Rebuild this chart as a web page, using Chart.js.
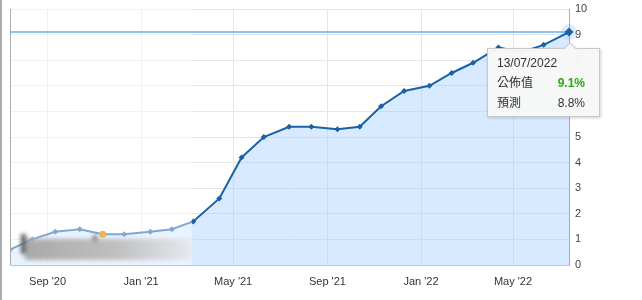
<!DOCTYPE html>
<html>
<head>
<meta charset="utf-8">
<script src="https://cdn.jsdelivr.net/npm/chart.js@4/dist/chart.umd.min.js"></script>
<style>
  html, body { margin: 0; padding: 0; background: #fff; }
  #wrap { position: relative; width: 642px; height: 300px; overflow: hidden; }
  #edge { position: absolute; left: 0; top: 0; width: 2px; height: 300px; background: #ababab; }
  #tip {
    position: absolute; box-sizing: border-box; width: 113px; height: 69px;
    background: rgba(247,247,247,0.97); border: 1px solid #c8c8c8;
    box-shadow: 1px 1px 3px rgba(0,0,0,0.18);
    padding: 4px 14px 4px 9px;
    font-family: "Liberation Sans", "Noto Sans CJK TC", Arial, sans-serif; font-size: 12px; color: #333;
  }
  #tip .row { display: flex; justify-content: space-between; height: 20px; line-height: 20px; white-space: nowrap; }
  #tip .pub { color: #2eab0c; font-weight: bold; }
  #tip .caret {
    position: absolute; width: 9px; height: 9px; top: -5px; left: 77px;
    background: rgba(247,247,247,0.97); border-left: 1px solid #c8c8c8; border-top: 1px solid #c8c8c8;
    transform: rotate(45deg);
  }
</style>
</head>
<body>
<div id="wrap">
  <canvas id="c" width="642" height="300"></canvas>
  <div id="edge"></div>
  <div id="tip">
    <div class="caret"></div>
    <div class="row"><span id="tipDate"></span></div>
    <div class="row"><span id="pubLabel"></span><span class="pub" id="pubVal"></span></div>
    <div class="row"><span id="fcLabel"></span><span id="fcVal"></span></div>
  </div>
</div>
<script>
// ---- data ----
const releaseDates = ["2020-07-14","2020-08-12","2020-09-11","2020-10-13","2020-11-12","2020-12-10",
  "2021-01-13","2021-02-10","2021-03-10","2021-04-13","2021-05-12","2021-06-10","2021-07-13",
  "2021-08-11","2021-09-14","2021-10-13","2021-11-10","2021-12-10","2022-01-12","2022-02-10",
  "2022-03-10","2022-04-12","2022-05-11","2022-06-10","2022-07-13"];
const cpiValues = [0.6,1.0,1.3,1.4,1.2,1.2,1.3,1.4,1.7,2.6,4.2,5.0,5.4,5.4,5.3,5.4,6.2,6.8,7.0,7.5,7.9,8.5,8.3,8.6,9.1];
const tickDates = ["2020-09-01","2021-01-01","2021-05-01","2021-09-01","2022-01-01","2022-05-01"];
const tickLabels = ["Sep '20","Jan '21","May '21","Sep '21","Jan '22","May '22"];
const yTicks = [0,1,2,3,4,5,6,7,8,9,10];
const forecastValue = 8.8;
const tooltipLabels = ["公佈值","預測"];
const highlightIndex = 4;
const shadeEnd = "2021-03-08";

const toDay = s => Date.UTC(+s.slice(0,4), +s.slice(5,7)-1, +s.slice(8,10)) / 86400000;
const points = releaseDates.map((d,i) => ({x: toDay(d), y: cpiValues[i]}));
const lastIdx = points.length - 1;

Chart.defaults.font.family = "'Liberation Sans', Arial, sans-serif";
Chart.defaults.font.size = 11;
Chart.defaults.color = '#444';

const decor = {
  id: 'decor',
  beforeDatasetsDraw(chart) {
    const {ctx} = chart;
    const el = chart.getDatasetMeta(0).data[lastIdx];
    ctx.save();
    ctx.fillStyle = 'rgba(120,170,225,0.22)';
    ctx.beginPath(); ctx.arc(el.x, el.y, 8, 0, Math.PI*2); ctx.fill();
    ctx.restore();
  },
  afterDatasetsDraw(chart) {
    const {ctx, chartArea: a, scales: {x, y}} = chart;
    ctx.save();
    // faded early region
    const xe = x.getPixelForValue(toDay(shadeEnd));
    ctx.fillStyle = 'rgba(255,255,255,0.45)';
    ctx.fillRect(a.left, a.top, xe - a.left, a.bottom - a.top);
    // blurred watermark
    ctx.filter = 'blur(2px)';
    const g = ctx.createLinearGradient(a.left + 15, 0, xe, 0);
    g.addColorStop(0, '#a9a9a9'); g.addColorStop(0.55, '#c0c0c0'); g.addColorStop(1, '#e6e9ee');
    ctx.fillStyle = g;
    ctx.fillRect(a.left + 15, a.bottom - 26, xe - a.left - 15, 21);
    ctx.fillStyle = '#5a5a5a';
    ctx.fillRect(a.left + 11, a.bottom - 31, 5, 20);
    ctx.fillStyle = '#707070';
    ctx.fillRect(a.left + 83, a.bottom - 30, 4, 6);
    ctx.filter = 'none';
    // highlighted point
    const hp = chart.getDatasetMeta(0).data[highlightIndex];
    ctx.fillStyle = '#e7b552';
    ctx.beginPath(); ctx.arc(hp.x, hp.y, 3.5, 0, Math.PI*2); ctx.fill();
    // left border
    ctx.strokeStyle = '#ababab'; ctx.lineWidth = 1;
    ctx.beginPath(); ctx.moveTo(a.left + 0.5, a.top); ctx.lineTo(a.left + 0.5, a.bottom); ctx.stroke();
    // latest value reference line
    const yl = Math.round(y.getPixelForValue(cpiValues[lastIdx]));
    ctx.strokeStyle = '#63b1ee'; ctx.lineWidth = 1.5;
    ctx.beginPath(); ctx.moveTo(a.left, yl); ctx.lineTo(a.right, yl); ctx.stroke();
    // last point marker
    const el = chart.getDatasetMeta(0).data[lastIdx];
    ctx.fillStyle = '#1961a9';
    ctx.beginPath(); ctx.moveTo(el.x, el.y - 4.5); ctx.lineTo(el.x + 4.5, el.y); ctx.lineTo(el.x, el.y + 4.5); ctx.lineTo(el.x - 4.5, el.y); ctx.closePath(); ctx.fill();
    ctx.restore();
  },
  afterDraw(chart) {
    const el = chart.getDatasetMeta(0).data[lastIdx];
    const tip = document.getElementById('tip');
    tip.style.left = (el.x - 82) + 'px';
    tip.style.top = (el.y + 16) + 'px';
  }
};

const d = releaseDates[lastIdx];
document.getElementById('tipDate').textContent = d.slice(8,10) + '/' + d.slice(5,7) + '/' + d.slice(0,4);
document.getElementById('pubLabel').textContent = tooltipLabels[0];
document.getElementById('pubVal').textContent = cpiValues[lastIdx].toFixed(1) + '%';
document.getElementById('fcLabel').textContent = tooltipLabels[1];
document.getElementById('fcVal').textContent = forecastValue.toFixed(1) + '%';

new Chart(document.getElementById('c'), {
  type: 'line',
  data: {
    datasets: [{
      data: points,
      borderColor: '#1961a9',
      borderWidth: 2,
      backgroundColor: 'rgba(168,208,255,0.45)',
      fill: 'origin',
      tension: 0,
      pointStyle: 'rectRot',
      pointRadius: ctx => ctx.dataIndex === lastIdx ? 0 : 3,
      pointBackgroundColor: '#1961a9',
      pointBorderWidth: 0
    }]
  },
  options: {
    responsive: false,
    animation: false,
    layout: { padding: { left: 10, top: 9, right: 0, bottom: 0 } },
    plugins: { legend: { display: false }, tooltip: { enabled: false } },
    scales: {
      x: {
        type: 'linear',
        min: points[0].x,
        max: points[lastIdx].x,
        afterBuildTicks: s => { s.ticks = tickDates.map(t => ({ value: toDay(t) })); },
        afterFit: s => { s.height = 35; s.paddingLeft = 0; s.paddingRight = 0; },
        ticks: {
          callback: (v, i) => tickLabels[i],
          autoSkip: false, maxRotation: 0, padding: 10, color: '#333'
        },
        grid: { color: '#e6e6e6', drawTicks: false },
        border: { color: '#b9c9dd' }
      },
      y: {
        position: 'right',
        min: 0, max: 10,
        afterBuildTicks: s => { s.ticks = yTicks.map(v => ({ value: v })); },
        afterFit: s => { s.width = 73; s.paddingTop = 0; s.paddingBottom = 0; },
        ticks: { padding: 6, color: '#444' },
        grid: { color: '#e6e6e6', drawTicks: false },
        border: { color: '#ababab' }
      }
    }
  },
  plugins: [decor]
});
</script>
</body>
</html>
